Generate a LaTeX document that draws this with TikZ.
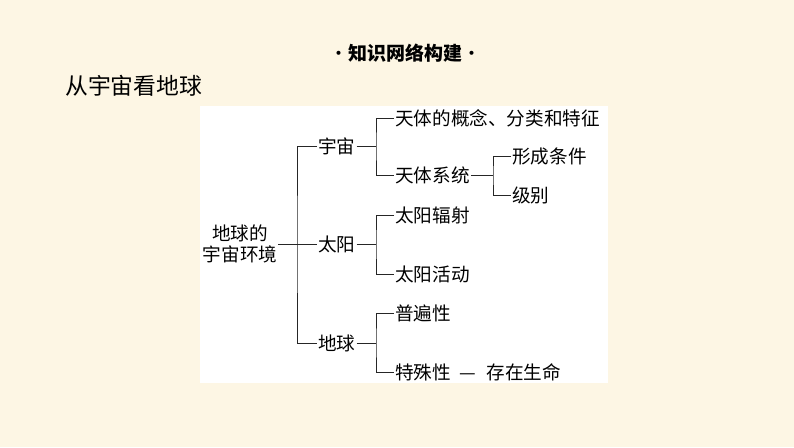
\documentclass[tikz,border=0pt]{standalone}
\usepackage{fontspec}
\usetikzlibrary{positioning}
\setmainfont{Noto Sans CJK SC}
\newfontfamily\cjk{Noto Sans CJK SC}
\definecolor{paper}{RGB}{253,246,228}
\begin{document}
\begin{tikzpicture}[x=1pt,y=-1pt,font=\cjk\fontsize{18.6}{21.5}\selectfont,
  leaf/.style={anchor=west,inner sep=1pt},
  link/.style={draw=black!85,line width=0.8pt}]
\useasboundingbox (0,0) rectangle (794,447);
\fill[paper](0,0) rectangle (794,447); \fill[white](200,106) rectangle (608,383);
\node[font=\cjk\fontsize{19}{22}\selectfont] (title) at (405,53){·{\bfseries 知识网络构建}·};
\node[anchor=west,inner sep=0pt,font=\cjk\fontsize{22.8}{26}\selectfont] (head) at (65,86){从宇宙看地球};
% root and first level
\node[align=center,inner sep=1pt] (root) at (240,244){地球的\\宇宙环境};
\node[leaf] (yuzhou) at (317,146){宇宙}; \node[leaf] (taiyang) at (317,244){太阳}; \node[leaf] (diqiu) at (317,343){地球};
% second level
\node[leaf] (gainian) at (394,118){天体的概念、分类和特征}; \node[leaf] (xitong) at (394,175){天体系统};
\node[leaf] (fushe) at (394,215){太阳辐射}; \node[leaf] (huodong) at (394,274){太阳活动};
\node[leaf] (pubian) at (394,313){普遍性}; \node[leaf] (teshu) at (394,372){特殊性\hspace{9pt}—\hspace{10pt}存在生命};
% third level
\node[leaf] (xingcheng) at (511,156){形成条件}; \node[leaf] (jibie) at (511,195){级别};
\coordinate (j0) at (297,244); \coordinate (j1) at (376,146); \coordinate (j2) at (376,244); \coordinate (j3) at (376,343); \coordinate (j4) at (493,175);
\draw[link] (root.east) -- (taiyang.west); \draw[link] (yuzhou.west) -| (j0) |- (diqiu.west);
\draw[link] (yuzhou.east) -- (j1); \draw[link] (gainian.west) -| (j1) |- (xitong.west);
\draw[link] (taiyang.east) -- (j2); \draw[link] (fushe.west) -| (j2) |- (huodong.west);
\draw[link] (diqiu.east) -- (j3); \draw[link] (pubian.west) -| (j3) |- (teshu.west);
\draw[link] (xitong.east) -- (j4); \draw[link] (xingcheng.west) -| (j4) |- (jibie.west);
\end{tikzpicture}
\end{document}
